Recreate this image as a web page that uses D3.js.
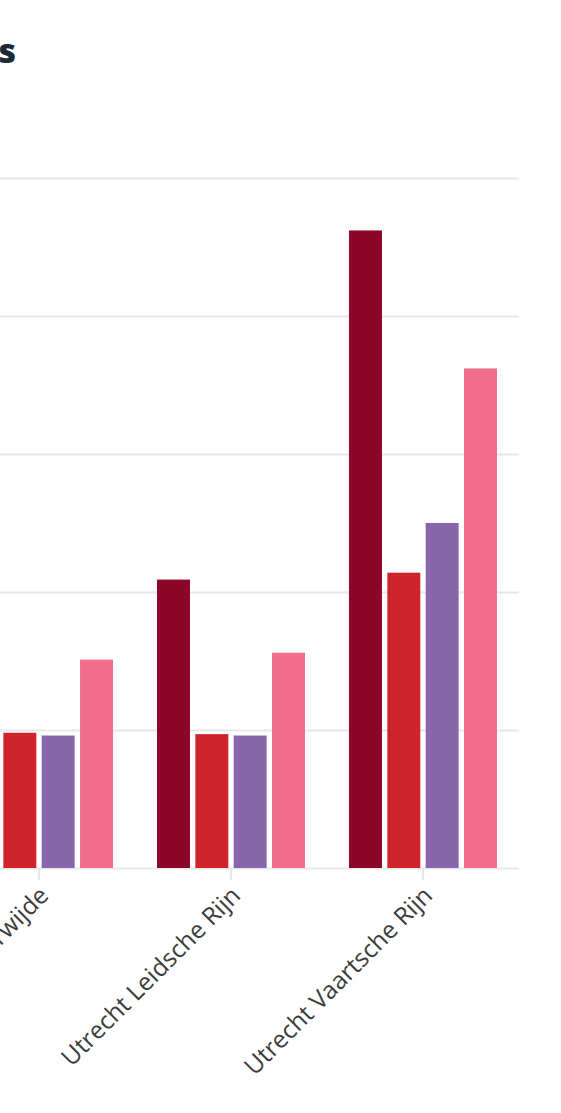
<!DOCTYPE html>
<html>
<head>
<meta charset="utf-8">
<script src="https://cdn.jsdelivr.net/npm/d3@7"></script>
<style>
  html, body { margin: 0; padding: 0; background: #ffffff; overflow: hidden; }
  svg { display: block; }
</style>
</head>
<body>
<svg id="chart" width="561" height="1113"></svg>
<script>
// ---- data ----
const titleText = "Reizigers per dag op de Utrechtse stations";
const categories = ["Utrecht Terwijde", "Utrecht Leidsche Rijn", "Utrecht Vaartsche Rijn"];
const seriesNames = ["Reeks 1", "Reeks 2", "Reeks 3", "Reeks 4"];
const seriesA = [20.0, 20.9, 46.2];
const seriesB = [9.8, 9.7, 21.4];
const seriesC = [9.6, 9.6, 25.0];
const seriesD = [15.1, 15.6, 36.2];
const yTicks = [0, 10, 20, 30, 40, 50];
const colors = ["#8c0628", "#d0242c", "#8766ab", "#f06e8b"];

// ---- layout ----
const svg = d3.select("#chart");
const plotRight = 519, plotTop = 178, plotBottom = 868;
const step = 192;
const plotLeft = plotRight - categories.length * step;

const allSeries = [seriesA, seriesB, seriesC, seriesD];
const rows = categories.map((c, i) => ({
  cat: c,
  vals: seriesNames.map((s, j) => ({ key: s, value: allSeries[j][i], idx: j }))
}));

const x0 = d3.scaleBand().domain(categories).range([plotLeft, plotRight])
  .paddingInner(0.229).paddingOuter(0.1146);
const x1 = d3.scaleBand().domain(seriesNames).range([0, x0.bandwidth()]).paddingInner(0.14);
const y = d3.scaleLinear().domain([0, 50]).range([plotBottom, plotTop]);

// gridlines (value labels sit outside the visible area in the reference, so none are drawn)
const yAxis = d3.axisLeft(y).tickValues(yTicks).tickSize(-(plotRight - plotLeft)).tickFormat("");
const gy = svg.append("g").attr("transform", `translate(${plotLeft},0)`).call(yAxis);
gy.select(".domain").remove();
gy.selectAll(".tick line").attr("stroke", "#e8e8e8").attr("stroke-width", 2);

// x axis
const xAxis = d3.axisBottom(x0).tickSize(12).tickSizeOuter(0);
const gx = svg.append("g").attr("transform", `translate(0,${plotBottom})`).call(xAxis);
gx.select(".domain").remove();
gx.selectAll(".tick line").attr("stroke", "#e8e8e8").attr("stroke-width", 2);
gx.selectAll(".tick text")
  .attr("fill", "#3c3c3c")
  .style("font-family", "Open Sans")
  .style("font-size", "24.5px")
  .attr("text-anchor", "end")
  .attr("x", 0).attr("y", 0).attr("dy", 0)
  .attr("transform", "translate(11,29) rotate(-45)");

// bars
const groups = svg.append("g").selectAll("g").data(rows).join("g")
  .attr("transform", d => `translate(${x0(d.cat)},0)`);
groups.selectAll("rect").data(d => d.vals).join("rect")
  .attr("x", d => x1(d.key))
  .attr("width", x1.bandwidth())
  .attr("y", d => y(d.value))
  .attr("height", d => y(0) - y(d.value))
  .attr("fill", d => colors[d.idx]);

// title
svg.append("text")
  .attr("x", 16).attr("y", 63)
  .attr("text-anchor", "end")
  .attr("fill", "#1e2b36")
  .style("font-family", "Open Sans")
  .style("font-weight", "800")
  .style("font-size", "34px")
  .text(titleText);
</script>
</body>
</html>
